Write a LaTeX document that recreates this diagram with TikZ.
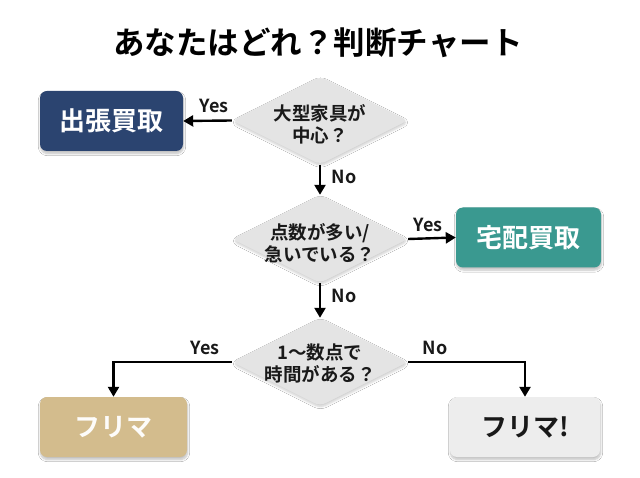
\documentclass[tikz,border=0pt]{standalone}
\usepackage{fontspec}
\setmainfont{Noto Sans CJK JP}[BoldFont={* Bold}]
\usetikzlibrary{shapes.geometric,shadows.blur,arrows.meta}
\definecolor{navy}{HTML}{2B4470}
\definecolor{teal2}{HTML}{3A9990}
\definecolor{tan2}{HTML}{D3BC8D}
\definecolor{lgray}{HTML}{EDEDED}
\definecolor{dgray}{HTML}{E4E4E4}
\tikzset{
  box/.style={rounded corners=7pt, minimum width=145pt, minimum height=60pt, inner sep=0pt,
    font=\fontsize{26}{30}\bfseries\selectfont,
    blur shadow={shadow blur steps=6, shadow xshift=0.5pt, shadow yshift=-2.5pt, shadow opacity=25}},
  dia/.style={diamond, fill=dgray, minimum width=176pt, minimum height=88pt, inner sep=0pt,
    rounded corners=6pt,
    blur shadow={shadow blur steps=6, shadow xshift=0.5pt, shadow yshift=-2pt, shadow opacity=20}},
  diatext/.style={align=center, font=\fontsize{18.5}{22}\bfseries\selectfont, text=black!90},
  lbl/.style={font=\fontsize{18}{21}\bfseries\selectfont, text=black!90},
  arr/.style={line width=2.4pt, -{Triangle[length=10pt,width=11pt]}},
}
\begin{document}
\begin{tikzpicture}[x=1pt,y=-1pt]
\useasboundingbox (0,0) rectangle (640,478);
\fill[white] (0,0) rectangle (640,478);
\node[font=\fontsize{31.5}{36}\bfseries\selectfont] (title) at (318,43) {あなたはどれ？判断チャート};

\node[dia] (d1) at (320,120.5) {};
\node[diatext] (d1t) at (320,124) {大型家具が\\中心？};
\node[dia] (d2) at (320,239) {};
\node[diatext] (d2t) at (320,243) {点数が多い/\\急いでいる？};
\node[dia] (d3) at (320,362) {};
\node[diatext] (d3t) at (320,363) {1〜数点で\\時間がある？};

\node[box, fill=navy, text=white, minimum width=143pt] (b1) at (111.5,121) {出張買取};
\node[box, fill=teal2, text=white] (b2) at (528.5,237.5) {宅配買取};
\node[box, fill=tan2, text=white!96!tan2, minimum width=147pt] (b3) at (113.5,427) {フリマ};
\node[box, fill=lgray, text=black!90, minimum width=150pt] (b4) at (525,427) {フリマ!};

\draw[arr] (d1.west) -- (b1.east);
\node[lbl] (y1) at (214,106) {Yes};
\draw[arr] (d1.south) -- (d2.north);
\node[lbl] (n1) at (344,177) {No};
\draw[arr] (d2.east) -- (b2.west);
\node[lbl] (y2) at (428,225) {Yes};
\draw[arr] (d2.south) -- (d3.north);
\node[lbl] (n2) at (344,296) {No};
\draw[arr] (d3.west) -| (b3.north);
\node[lbl] (y3) at (205,348) {Yes};
\draw[arr] (d3.east) -| (b4.north);
\node[lbl] (n3) at (435,348) {No};
\end{tikzpicture}
\end{document}
